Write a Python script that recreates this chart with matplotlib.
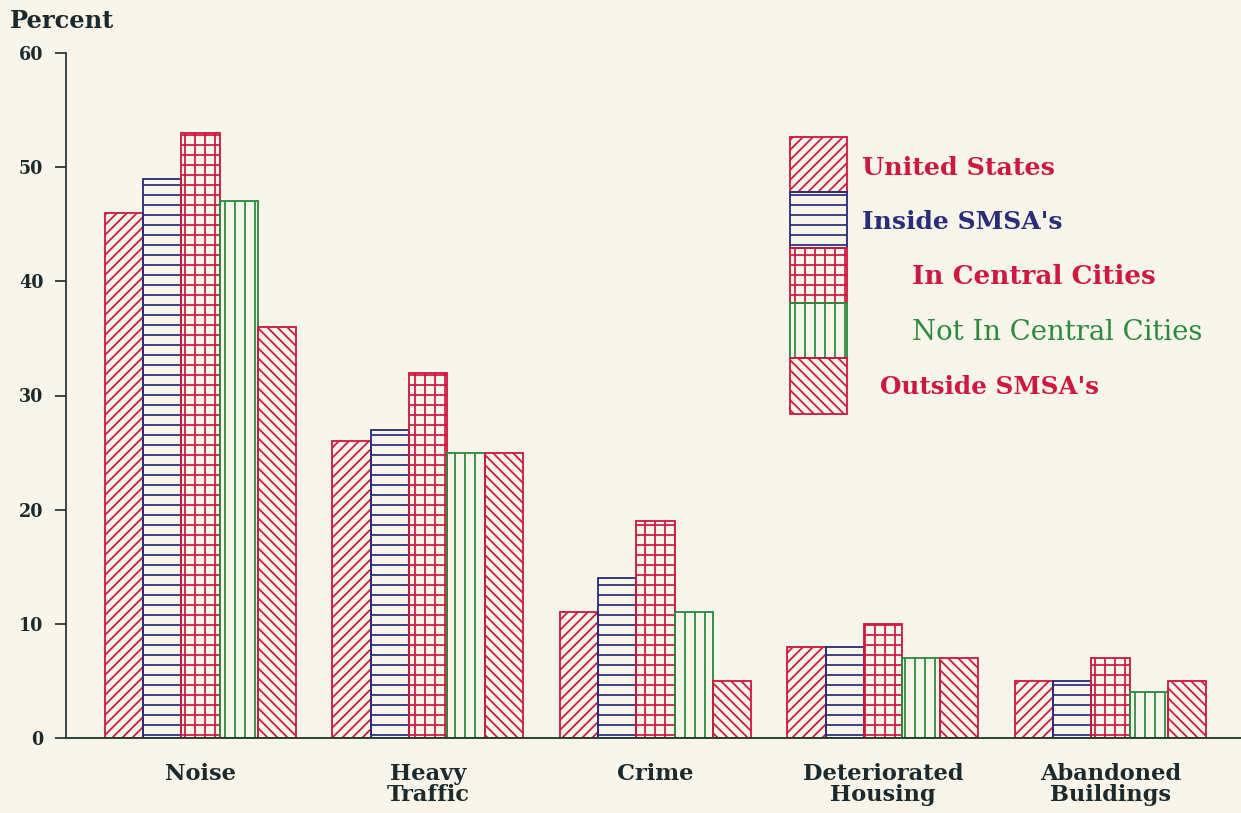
import matplotlib
matplotlib.use("Agg")
import matplotlib.pyplot as plt
from matplotlib.patches import Rectangle
import numpy as np

categories = ["Noise", "Heavy\nTraffic", "Crime", "Deteriorated\nHousing", "Abandoned\nBuildings"]
series_names = ["United States", "Inside SMSA's", "In Central Cities", "Not In Central Cities", "Outside SMSA's"]
united_states = [46, 26, 11, 8, 5]
inside_smsa = [49, 27, 14, 8, 5]
central_cities = [53, 32, 19, 10, 7]
not_central = [47, 25, 11, 7, 4]
outside_smsa = [36, 25, 5, 7, 5]
y_ticks = [0, 10, 20, 30, 40, 50, 60]

RED = "#cf1840"
BLUE = "#2a2c7c"
GREEN = "#2b8a3e"
DARK = "#1c2a2c"
BG = "#f8f5ea"

series = [united_states, inside_smsa, central_cities, not_central, outside_smsa]
colors = [RED, BLUE, RED, GREEN, RED]
hatches = ["//", "-", "+", "|", "\\\\"]

DPI = 60
W, H = 1241, 813
fig = plt.figure(figsize=(W / DPI, H / DPI), dpi=DPI, facecolor=BG)
plt.rcParams["hatch.linewidth"] = 2.1

L, R, B, T = 66, 1241, 738, 53
ax = fig.add_axes([L / W, (H - B) / H, (R - L) / W, (B - T) / H])
ax.set_facecolor(BG)

bw = 38.2 / 227.5
x = np.arange(len(categories))
for k, (vals, c, h) in enumerate(zip(series, colors, hatches)):
    ax.bar(x + (k - 2) * bw, vals, width=bw, facecolor="none", edgecolor=c,
           hatch=h, linewidth=2.2, zorder=2)

ax.set_xlim(-0.591, 4.574)
ax.set_ylim(0, 60)
ax.set_yticks(y_ticks)
ax.set_xticks(x)
ax.set_xticklabels(categories, fontsize=27, fontweight="bold", family="DejaVu Serif",
                   color=DARK, linespacing=0.95)
ax.tick_params(axis="x", length=0, pad=30)
ax.tick_params(axis="y", length=13, width=2.0, pad=14, color=DARK,
               labelsize=21, labelcolor=DARK)
for lab in ax.get_yticklabels():
    lab.set_family("DejaVu Serif")
    lab.set_fontweight("bold")
for s in ["top", "right"]:
    ax.spines[s].set_visible(False)
ax.spines["left"].set_color(DARK)
ax.spines["left"].set_linewidth(2.0)
ax.spines["bottom"].set_color("#1d3a2c")
ax.spines["bottom"].set_linewidth(2.2)

fig.text(10 / W, 1 - 21 / H, "Percent", fontsize=29, fontweight="bold",
         family="DejaVu Serif", color=DARK, ha="left", va="center")

# legend
def ax_xy(px, py):
    return (px - L) / (R - L), (B - py) / (B - T)

box_x0, box_x1 = 790, 847
bounds = [137, 192, 248, 303, 358, 414]
for k in range(5):
    x0, y0 = ax_xy(box_x0, bounds[k + 1])
    x1, y1 = ax_xy(box_x1, bounds[k])
    ax.add_patch(Rectangle((x0, y0), x1 - x0, y1 - y0, transform=ax.transAxes,
                           facecolor="none", edgecolor=colors[k], hatch=hatches[k],
                           linewidth=2.2, clip_on=False, zorder=3))

text_pos = [(862, 168), (862, 222), (912, 277), (912, 332), (880, 387)]
weights = ["bold", "bold", "bold", "normal", "bold"]
sizes = [30.5, 30, 31.5, 33, 29.5]
text_colors = [RED, BLUE, RED, GREEN, RED]
for name, (px, py), wt, tc, fs in zip(series_names, text_pos, weights, text_colors, sizes):
    tx, ty = ax_xy(px, py)
    ax.text(tx, ty, name, transform=ax.transAxes, ha="left", va="center",
            fontsize=fs, fontweight=wt, family="DejaVu Serif", color=tc)

fig.savefig("out.png", dpi=DPI, facecolor=BG)
